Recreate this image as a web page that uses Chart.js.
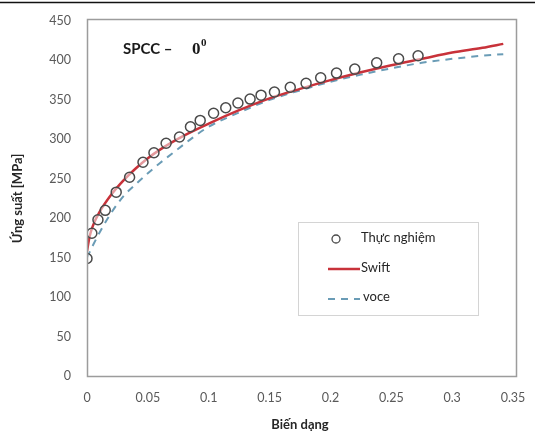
<!DOCTYPE html>
<html>
<head>
<meta charset="utf-8">
<script src="https://cdn.jsdelivr.net/npm/chart.js@4"></script>
<style>
  body { margin: 0; background: #fff; }
  #wrap { width: 535px; height: 433px; position: relative; }
</style>
</head>
<body>
<div id="wrap"><canvas id="chart"></canvas></div>
<script>
// Thực nghiệm (measured points)
const expStrain = [0, 0.004, 0.009, 0.015, 0.024, 0.035, 0.046, 0.055, 0.065, 0.076, 0.085, 0.093, 0.104, 0.114, 0.124, 0.134, 0.143, 0.154, 0.167, 0.18, 0.192, 0.205, 0.22, 0.238, 0.256, 0.272];
const expStress = [149, 181, 198, 210, 233, 252, 271, 283, 295, 303, 316, 324, 333, 340, 346, 351, 356, 360, 366, 371, 378, 384, 389, 397, 402, 406];

// Swift fit
const swiftStrain = [0, 0.002, 0.005, 0.01, 0.02, 0.03, 0.04, 0.05, 0.06, 0.08, 0.1, 0.125, 0.15, 0.175, 0.2, 0.225, 0.25, 0.275, 0.3, 0.325, 0.342];
const swiftStress = [158, 176, 191, 207, 230, 248, 263, 276, 287, 305, 320, 337, 352, 364, 375, 385, 394, 402, 410, 416, 421];

// voce fit
const voceStrain = [0, 0.005, 0.01, 0.02, 0.03, 0.04, 0.05, 0.06, 0.07, 0.085, 0.1, 0.125, 0.15, 0.175, 0.2, 0.225, 0.25, 0.275, 0.3, 0.325, 0.342];
const voceStress = [150, 166, 181, 207, 228, 243, 257, 270, 282, 300, 316, 334, 350, 362, 373, 382, 390, 397, 402, 406, 408];

const xTicks = { min: 0, max: 0.35, step: 0.05 };
const yTicks = { min: 0, max: 450, step: 50 };

function toPoints(xs, ys) {
    return xs.map((x, i) => ({ x: x, y: ys[i] }));
}

const FONT = 'Lato, "Open Sans", sans-serif';

// khung, tiêu đề và chú thích vẽ thêm
const extras = {
    id: 'extras',
    afterDraw(chart) {
        const ctx = chart.ctx;
        const sx = chart.scales.x;
        const sy = chart.scales.y;
        const ds = chart.data.datasets;
        ctx.save();
        // khung vùng vẽ
        const l = Math.round(sx.left) + 0.5;
        const r = Math.round(sx.right) + 3.5;
        const t = Math.round(sy.top) - 1.5;
        const b = Math.round(sy.bottom) + 0.5;
        ctx.beginPath();
        ctx.strokeStyle = '#9c9c9c';
        ctx.lineWidth = 1.5;
        ctx.moveTo(l, t);
        ctx.lineTo(r, t);
        ctx.lineTo(r, b);
        ctx.lineTo(l, b);
        ctx.closePath();
        ctx.stroke();

        // đường đen phía trên
        ctx.beginPath();
        ctx.strokeStyle = '#111';
        ctx.lineWidth = 1.5;
        ctx.moveTo(0, 2.5);
        ctx.lineTo(535, 2.5);
        ctx.stroke();

        // SPCC - 0°
        ctx.fillStyle = '#1a1a1a';
        ctx.textBaseline = 'alphabetic';
        ctx.font = 'bold 15px ' + FONT;
        ctx.fillText('SPCC \u2013', 123, 54);
        ctx.font = 'bold 17px "Liberation Serif", serif';
        ctx.fillText('0', 192, 54);
        ctx.font = 'bold 11px "Liberation Serif", serif';
        ctx.fillText('0', 201, 46);

        // chú thích
        ctx.strokeStyle = '#d4d4d4';
        ctx.lineWidth = 1;
        ctx.strokeRect(298.5, 222.5, 180, 93);
        ctx.font = '13px ' + FONT;
        ctx.fillStyle = '#262626';
        ctx.textBaseline = 'middle';

        ctx.beginPath();
        ctx.arc(336, 239, 4, 0, Math.PI * 2);
        ctx.strokeStyle = ds[0].borderColor;
        ctx.lineWidth = 1.3;
        ctx.stroke();
        ctx.fillText(ds[0].label, 361, 238);

        ctx.beginPath();
        ctx.strokeStyle = ds[1].borderColor;
        ctx.lineWidth = 2.5;
        ctx.moveTo(328, 269);
        ctx.lineTo(360, 269);
        ctx.stroke();
        ctx.fillText(ds[1].label, 361, 268);

        ctx.beginPath();
        ctx.strokeStyle = ds[2].borderColor;
        ctx.lineWidth = 2;
        ctx.setLineDash(ds[2].borderDash);
        ctx.moveTo(328, 299);
        ctx.lineTo(360, 299);
        ctx.stroke();
        ctx.setLineDash([]);
        ctx.fillText(ds[2].label, 363, 297);
        ctx.restore();
    }
};

new Chart(document.getElementById('chart'), {
    type: 'scatter',
    data: {
        datasets: [
            {
                label: 'Thực nghiệm',
                data: toPoints(expStrain, expStress),
                pointStyle: 'circle',
                pointRadius: 5,
                pointBorderWidth: 1.5,
                borderColor: '#4a4a4a',
                backgroundColor: 'rgba(255,255,255,0.5)',
                showLine: false
            },
            {
                label: 'Swift',
                data: toPoints(swiftStrain, swiftStress),
                showLine: true,
                borderColor: '#c8323a',
                borderWidth: 2.5,
                pointRadius: 0,
                cubicInterpolationMode: 'monotone'
            },
            {
                label: 'voce',
                data: toPoints(voceStrain, voceStress),
                showLine: true,
                borderColor: '#6a9cb6',
                borderWidth: 2,
                borderDash: [7, 6],
                pointRadius: 0,
                cubicInterpolationMode: 'monotone'
            }
        ]
    },
    options: {
        responsive: true,
        maintainAspectRatio: false,
        animation: false,
        layout: {
            padding: { left: 0, right: 22, top: 21, bottom: 0 }
        },
        plugins: {
            legend: { display: false },
            tooltip: { enabled: false }
        },
        scales: {
            x: {
                type: 'linear',
                min: xTicks.min,
                max: xTicks.max,
                grid: { display: false },
                border: { display: false },
                ticks: {
                    stepSize: xTicks.step,
                    color: '#595959',
                    font: { family: FONT, size: 12.5 },
                    padding: 6,
                    callback: (v) => String(+v.toFixed(2))
                },
                title: {
                    display: true,
                    text: 'Biến dạng',
                    color: '#262626',
                    font: { family: FONT, size: 13, weight: 'bold' },
                    padding: { top: 6, bottom: 0 }
                },
                afterFit(scale) { scale.height = 57; }
            },
            y: {
                min: yTicks.min,
                max: yTicks.max,
                grid: { display: false },
                border: { display: false },
                ticks: {
                    stepSize: yTicks.step,
                    color: '#595959',
                    font: { family: FONT, size: 12.5 },
                    padding: 8
                },
                title: {
                    display: true,
                    text: 'Ứng suất [MPa]',
                    color: '#262626',
                    font: { family: FONT, size: 13, weight: 'bold' },
                    padding: { top: 10, bottom: 10 }
                },
                afterFit(scale) { scale.width = 87; }
            }
        }
    },
    plugins: [extras]
});
</script>
</body>
</html>
